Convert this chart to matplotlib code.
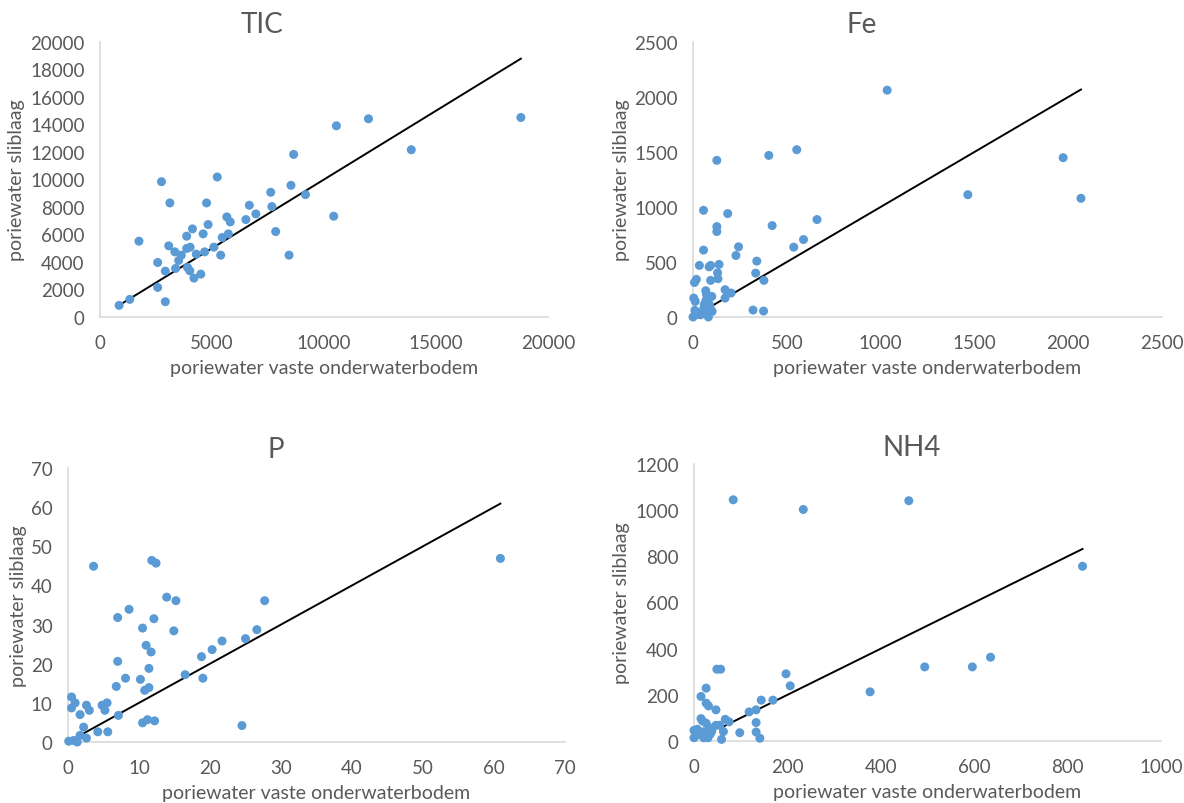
import matplotlib
matplotlib.use("Agg")
import matplotlib.pyplot as plt

# TIC
tic_x = [853, 1330, 1739, 2575, 2575, 2745, 2916, 2916, 3069, 3120, 3342, 3376, 3512, 3632,
         3870, 3870, 3905, 4024, 4007, 4126, 4194, 4297, 4501, 4604, 4672, 4757, 4825, 5081,
         5234, 5388, 5456, 5661, 5729, 5814, 6513, 6667, 6957, 7621, 7673, 7843, 8440, 8525,
         8645, 9173, 10435, 10554, 11986, 13896, 18789]
tic_y = [846, 1282, 5514, 3966, 2152, 9843, 3337, 1112, 5175, 8295, 4740, 3531, 4111, 4498,
         5877, 4982, 3603, 5079, 3362, 6409, 2830, 4571, 3120, 6046, 4740, 8295, 6723, 5079,
         10181, 4498, 5780, 7279, 6046, 6917, 7086, 8126, 7497, 9069, 8029, 6215, 4498, 9577,
         11826, 8900, 7328, 13906, 14414, 12164, 14510]
tic_lijn = [1000, 18790]

# Fe
fe_x = [0, 4, 8, 18, 12, 10, 24, 34, 44, 56, 56, 56, 68, 68, 72, 74, 82, 86, 94, 94, 100,
        102, 86, 127, 127, 127, 131, 133, 139, 171, 171, 185, 203, 229, 243, 320, 334, 340,
        376, 378, 404, 422, 537, 553, 589, 661, 1035, 1465, 1973, 2068, 40, 60, 90]
fe_y = [0, 172, 314, 342, 142, 60, 24, 469, 30, 970, 608, 70, 239, 148, 206, 45, 0, 456,
        469, 333, 187, 51, 118, 1424, 822, 777, 402, 348, 478, 248, 172, 940, 218, 559, 638,
        63, 399, 508, 54, 333, 1469, 831, 635, 1521, 704, 886, 2062, 1112, 1448, 1079, 20, 110, 90]
fe_lijn = [100, 2068]

# P
p_x = [0.1, 0.8, 1.3, 0.5, 0.5, 1.0, 1.7, 1.7, 2.2, 2.6, 3.0, 2.6, 3.6, 4.2, 4.8, 5.2, 5.5,
       5.6, 6.8, 7.0, 7.0, 7.1, 8.1, 8.6, 10.2, 10.5, 10.5, 10.8, 11.0, 11.2, 11.4, 11.4,
       11.7, 11.8, 12.1, 12.2, 12.4, 13.9, 14.9, 15.2, 16.5, 18.8, 19.0, 20.3, 21.7, 24.5,
       25.0, 26.6, 27.7, 60.9]
p_y = [0.2, 0.4, 0.0, 11.5, 8.7, 10.0, 7.0, 1.7, 3.8, 9.4, 8.1, 1.0, 44.9, 2.6, 9.4, 8.1,
       10.0, 2.6, 14.2, 31.8, 20.6, 6.8, 16.3, 33.9, 16.0, 29.1, 4.9, 13.2, 24.7, 5.7, 18.8,
       13.9, 23.0, 46.4, 31.5, 5.4, 45.7, 37.0, 28.4, 36.1, 17.2, 21.8, 16.3, 23.6, 25.8,
       4.2, 26.4, 28.7, 36.1, 46.9]
p_lijn = [2.1, 60.9]

# NH4
nh4_x = [0, 0, 7, 10, 15, 15, 18, 21, 26, 26, 26, 29, 31, 33, 30, 38, 47, 47, 49, 57, 55,
         59, 63, 67, 75, 84, 98, 118, 133, 133, 133, 141, 144, 169, 197, 206, 234, 377, 460,
         494, 596, 635, 832, 5, 20, 35]
nh4_y = [46, 14, 51, 29, 193, 97, 87, 14, 229, 164, 77, 36, 152, 58, 14, 43, 135, 68, 311,
         311, 68, 7, 41, 94, 83, 1045, 36, 126, 135, 80, 39, 12, 177, 177, 291, 239, 1003,
         213, 1041, 321, 321, 363, 757, 25, 40, 30]
nh4_lijn = [61, 832]

panels = [
    ("TIC", tic_x, tic_y, tic_lijn, 20000, 2000, 5000),
    ("Fe", fe_x, fe_y, fe_lijn, 2500, 500, 500),
    ("P", p_x, p_y, p_lijn, 70, 10, 10),
    ("NH4", nh4_x, nh4_y, nh4_lijn, 1000, 200, 200),
]
ymaxes = {"TIC": 20000, "Fe": 2500, "P": 70, "NH4": 1200}

W, H = 1184, 804
# plot areas in pixels: left, right, top, bottom
boxes = {
    "TIC": (100, 548, 43, 318),
    "Fe": (693, 1162, 43, 318),
    "P": (68, 565, 469, 743),
    "NH4": (694, 1161, 465, 742),
}
title_pos = {"TIC": (262, 25), "Fe": (862, 25), "P": (276, 450), "NH4": (912, 448)}
ylabel_x = {"TIC": 17, "Fe": 622, "P": 19, "NH4": 622}

txt = "#595959"
blauw = "#5B9BD5"
plt.rcParams["font.family"] = ["Lato", "DejaVu Sans"]

fig = plt.figure(figsize=(W / 100, H / 100), dpi=100)
fig.patch.set_facecolor("white")

for naam, xs, ys, lijn, xmax, ystep, xstep in panels:
    l, r, t, b = boxes[naam]
    ax = fig.add_axes([l / W, 1 - b / H, (r - l) / W, (b - t) / H])
    ymax = ymaxes[naam]
    ax.scatter(xs, ys, s=42, color=blauw, edgecolors="none", zorder=3)
    ax.plot(lijn, lijn, color="black", lw=1.4, zorder=2)
    ax.set_xlim(0, xmax)
    ax.set_ylim(0, ymax)
    ax.set_xticks(range(0, int(xmax) + 1, xstep))
    ax.set_yticks(range(0, int(ymax) + 1, ystep))
    for s in ("top", "right"):
        ax.spines[s].set_visible(False)
    for s in ("left", "bottom"):
        ax.spines[s].set_color("#D9D9D9")
        ax.spines[s].set_linewidth(1.2)
    ax.tick_params(length=0, labelsize=13.5, labelcolor=txt)
    ax.tick_params(axis="x", pad=12)
    ax.tick_params(axis="y", pad=11)
    ax.set_xlabel("poriewater vaste onderwaterbodem", fontsize=14, color=txt, labelpad=6)
    yc = (t + b) / 2
    fig.text(ylabel_x[naam] / W, 1 - yc / H, "poriewater sliblaag", rotation=90,
             ha="center", va="center", fontsize=14, color=txt)
    tx, ty = title_pos[naam]
    fig.text(tx / W, 1 - ty / H, naam, ha="center", va="center", fontsize=20, color=txt)
    ax.set_clip_on(False)
    for c in ax.collections:
        c.set_clip_on(False)

fig.savefig("out.png", dpi=100)
